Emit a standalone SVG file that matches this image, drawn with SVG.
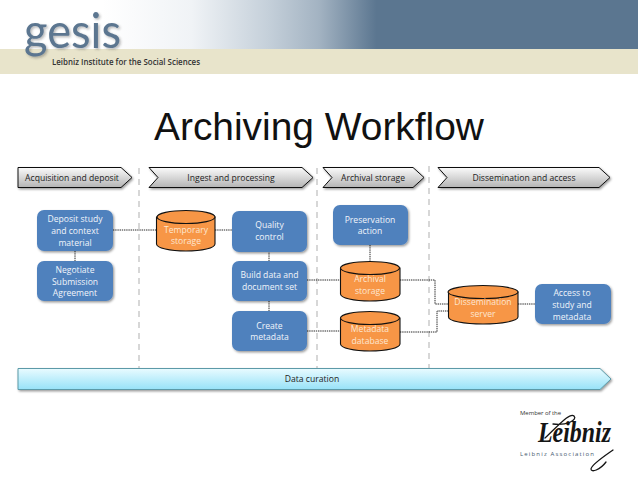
<svg xmlns="http://www.w3.org/2000/svg" width="638" height="479" viewBox="0 0 638 479">
<style>
.lbl{font-family:"Open Sans","Liberation Sans",sans-serif;font-size:8.6px;text-anchor:middle}
.w{fill:#f1f5fb}
.o{fill:#fde6d2}
.k{fill:#222}
.box{fill:#4f81bd;filter:url(#sh)}
.cyl{fill:#f79646;stroke:#111;stroke-width:1.1}
.chev{fill:url(#gc);stroke:#111;stroke-width:1;filter:url(#sh)}
.conn{fill:none;stroke:#111;stroke-width:.9;stroke-dasharray:1.4 .8}
.sep{fill:none;stroke:#bdbdbd;stroke-width:1.2;stroke-dasharray:6 5}
.sig{fill:none;stroke:#151515;stroke-width:1.3;stroke-linecap:round}
</style>
<defs>
<linearGradient id="gh" x1="0" x2="1" y1="0" y2="0"><stop offset="0" stop-color="#fff"/><stop offset=".16" stop-color="#fff"/><stop offset=".3" stop-color="#f0f3f6"/><stop offset=".42" stop-color="#c5d0da"/><stop offset=".5" stop-color="#a3b3c2"/><stop offset=".59" stop-color="#5b7690"/><stop offset="1" stop-color="#5b7690"/></linearGradient>
<linearGradient id="gc" x1="0" x2="0" y1="0" y2="1"><stop offset="0" stop-color="#fbfbfb"/><stop offset="1" stop-color="#b4b4b4"/></linearGradient>
<linearGradient id="gd" x1="0" x2="0" y1="0" y2="1"><stop offset="0" stop-color="#e9fbff"/><stop offset="1" stop-color="#97e2f8"/></linearGradient>
<filter id="sh" x="-10%" y="-15%" width="125%" height="135%"><feDropShadow dx="1.2" dy="1.4" stdDeviation="1.1" flood-color="#000" flood-opacity=".4"/></filter>
<filter id="soft" x="-10%" y="-20%" width="125%" height="140%"><feDropShadow dx="1.5" dy="1.5" stdDeviation="1" flood-color="#333" flood-opacity=".35"/></filter>
</defs>
<rect width="638" height="479" fill="#fff"/>
<g id="header">
<rect width="638" height="49" fill="url(#gh)"/>
<rect y="49" width="638" height="25" fill="#e8e4cb"/>
<text x="24" y="48" font-family="Lato,'Open Sans',sans-serif" font-size="48" fill="#5b7690" textLength="97" lengthAdjust="spacingAndGlyphs" filter="url(#soft)">gesis</text>
<text x="52" y="65" font-family="'Open Sans',sans-serif" font-size="8" font-weight="600" fill="#333" textLength="148" lengthAdjust="spacingAndGlyphs">Leibniz Institute for the Social Sciences</text>
</g>
<text id="title" x="319" y="140" font-family="'Liberation Sans',Arial,sans-serif" font-size="38.900" text-anchor="middle" fill="#111">Archiving Workflow</text>
<g id="separators">
<path class="sep" d="M139 168V368M317 168V368M429 166V368"/>
</g>
<g id="connectors">
<path class="conn" d="M113 230H156M215 230H232M75 251V261M269 251V261M269 301V311M307 280H340M307 331H340M370 245V261M400 280H435V304H448M400 332H437V311H448M518 304H535"/>
</g>
<g id="phase-acquisition"><path class="chev" d="M18 167.500H121L132 177.500 121 187.500H18Z"/><text class="lbl k" x="72" y="181">Acquisition and deposit</text></g>
<g id="phase-ingest"><path class="chev" d="M149 167.500H302L313 177.500 302 187.500H149L158 177.500Z"/><text class="lbl k" x="231" y="181">Ingest and processing</text></g>
<g id="phase-archival"><path class="chev" d="M323 167.500H413L424 177.500 413 187.500H323L332 177.500Z"/><text class="lbl k" x="373" y="181">Archival storage</text></g>
<g id="phase-dissemination"><path class="chev" d="M438 167.500H599L610 177.500 599 187.500H438L447 177.500Z"/><text class="lbl k" x="524" y="181">Dissemination and access</text></g>
<g id="deposit"><rect class="box" x="37" y="210" width="76" height="41" rx="7"/><text class="lbl w" x="75" y="222">Deposit study</text><text class="lbl w" x="75" y="234">and context</text><text class="lbl w" x="75" y="246">material</text></g>
<g id="negotiate"><rect class="box" x="37" y="261" width="76" height="40" rx="7"/><text class="lbl w" x="75" y="273">Negotiate</text><text class="lbl w" x="75" y="284.500">Submission</text><text class="lbl w" x="75" y="296">Agreement</text></g>
<g id="temporary"><path class="cyl" d="M156.500 217V244C156.500 248 170 251 186 251S215 248 215 244V217Z"/><ellipse class="cyl" cx="186" cy="217" rx="29" ry="6.500"/><text class="lbl o" x="186" y="233">Temporary</text><text class="lbl o" x="186" y="244">storage</text></g>
<g id="quality"><rect class="box" x="232" y="211" width="75" height="41" rx="7"/><text class="lbl w" x="269.500" y="228">Quality</text><text class="lbl w" x="269.500" y="240">control</text></g>
<g id="build"><rect class="box" x="232" y="261" width="75" height="40" rx="7"/><text class="lbl w" x="269.500" y="278">Build data and</text><text class="lbl w" x="269.500" y="290">document set</text></g>
<g id="create"><rect class="box" x="232" y="311" width="75" height="40" rx="7"/><text class="lbl w" x="269.500" y="329">Create</text><text class="lbl w" x="269.500" y="340">metadata</text></g>
<g id="preservation"><rect class="box" x="333" y="205" width="75" height="40" rx="7"/><text class="lbl w" x="370" y="223">Preservation</text><text class="lbl w" x="370" y="234">action</text></g>
<g id="archival"><path class="cyl" d="M340.500 268V294C340.500 298 354 301 370 301S400 298 400 294V268Z"/><ellipse class="cyl" cx="370" cy="268" rx="29.500" ry="6.500"/><text class="lbl o" x="370" y="282">Archival</text><text class="lbl o" x="370" y="294">storage</text></g>
<g id="metadata"><path class="cyl" d="M340.500 318V344C340.500 348 354 351 370 351S400 348 400 344V318Z"/><ellipse class="cyl" cx="370" cy="318" rx="29.500" ry="6.500"/><text class="lbl o" x="370" y="332">Metadata</text><text class="lbl o" x="370" y="344">database</text></g>
<g id="dissemination"><path class="cyl" d="M448.500 292V317C448.500 321 464 324 483 324S518 321 518 317V292Z"/><ellipse class="cyl" cx="483" cy="292" rx="35" ry="6.500"/><text class="lbl o" x="483" y="305">Dissemination</text><text class="lbl o" x="483" y="317">server</text></g>
<g id="access"><rect class="box" x="535" y="284" width="76" height="40" rx="7"/><text class="lbl w" x="572" y="296">Access to</text><text class="lbl w" x="572" y="308">study and</text><text class="lbl w" x="572" y="320">metadata</text></g>
<g id="curation"><path d="M18 368.500H600L611 379 600 389.500H18Z" fill="url(#gd)" stroke="#5b9aa8" stroke-width="1" filter="url(#sh)"/><text class="lbl k" x="312" y="382">Data curation</text></g>
<g id="leibniz-logo">
<text x="520" y="415" font-family="'Open Sans',sans-serif" font-size="6" fill="#333" textLength="41">Member of the</text>
<text x="538" y="442" font-family="'Liberation Serif',serif" font-style="italic" font-weight="bold" font-size="29" fill="#151515" textLength="73" lengthAdjust="spacingAndGlyphs">Leibniz</text>
<path class="sig" d="M545 438C558 426 570 412 574 416S566 426 553 424M613 450C603 457 591 465 591 469S600 470 606 462"/>
<text x="520" y="456" font-family="'Open Sans',sans-serif" font-size="6" fill="#44586e" textLength="74">Leibniz Association</text>
</g>
</svg>
